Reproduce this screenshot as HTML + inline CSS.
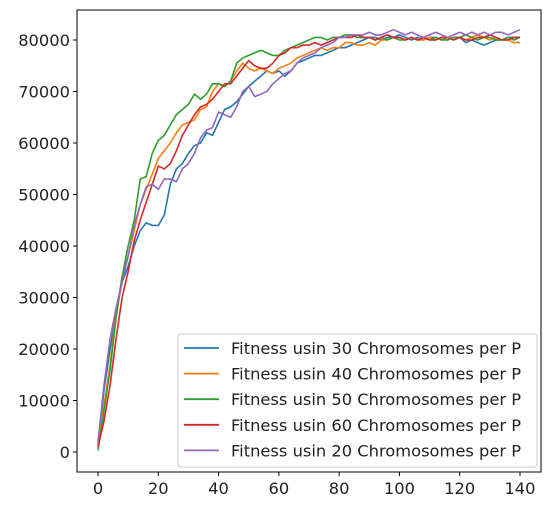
<!DOCTYPE html>
<html><head><meta charset="utf-8"><style>
body{margin:0;background:#fff;font-family:"Liberation Sans","DejaVu Sans",sans-serif}
svg text{font-family:"DejaVu Sans","Liberation Sans",sans-serif;font-size:16.3px;fill:#222}
</style></head><body>
<svg id="chart" width="553" height="508"></svg>
<script>
const xStep = 2;
const series30 = [1000,12000,20000,27000,33000,36000,40000,43000,44500,44000,44000,46000,52000,55000,56000,58000,59500,60000,62000,61500,64000,66500,67000,68000,69500,71000,72000,73000,74000,73500,74000,73000,74000,75500,76000,76500,77000,77000,77500,78000,78500,78500,79000,79500,80000,80500,80500,80000,80500,80500,81000,80500,80000,80500,80000,80500,80500,80000,80500,80000,80500,79500,80000,79500,79000,79500,80000,80000,80500,80500,80500];
const series40 = [1500,9000,17000,27000,34000,38000,43000,48000,51000,54000,57000,58500,60000,62000,63500,64000,64500,66500,67000,70000,71500,71000,72000,74000,75500,74500,74000,74500,74000,73500,74500,75000,75500,76500,77000,77500,78000,78500,78000,78500,78500,79500,79500,79000,79000,79500,79000,80000,80000,80500,80500,80000,80500,80000,80000,80500,80000,80500,80000,80500,80500,80000,80500,81000,80500,80000,80500,80000,80000,79500,79500];
const series50 = [300,8000,16000,26000,34000,40000,45000,53000,53500,58000,60500,61500,63500,65500,66500,67500,69500,68500,69500,71500,71500,71000,72000,75500,76500,77000,77500,78000,77500,77000,77000,78000,78500,79000,79500,80000,80500,80500,80000,80500,80500,81000,81000,80500,80500,80500,80000,80500,80000,80500,80000,80000,80500,80000,80500,80000,80500,80000,80000,80500,80500,81000,80500,80000,80500,80500,80000,80000,80500,80000,80500];
const series60 = [1000,6000,13000,22000,30000,35000,41000,45000,48500,52000,55500,55000,56000,58500,61500,63500,65500,67000,67500,68500,70000,71500,71500,73000,74500,76000,75000,74500,74500,75500,77000,77500,78500,78500,79000,79000,79500,79000,79500,80000,80500,80500,80500,81000,80500,80500,80000,80500,81000,80500,80500,80000,80500,80000,80500,80000,80000,80500,80500,80000,80500,80000,80000,80500,80500,81000,80500,80000,80000,80500,80500];
const series20 = [2000,13000,22000,28000,33000,38000,44000,48000,51500,52000,51000,53000,53000,52500,55000,56000,58000,61000,62500,63000,66000,65500,65000,67000,70000,71000,69000,69500,70000,71500,72500,73500,74000,75500,76500,77000,77500,78500,79000,79500,80500,80500,81000,81000,81000,81500,81000,81000,81500,82000,81500,81000,81500,81000,80500,81000,81500,81000,80500,81000,81500,81000,81500,81000,81500,81000,81500,81500,81000,81500,82000];
const seriesList = [series30,series40,series50,series60,series20];
const seriesLabels = ["Fitness usin 30 Chromosomes per P","Fitness usin 40 Chromosomes per P","Fitness usin 50 Chromosomes per P","Fitness usin 60 Chromosomes per P","Fitness usin 20 Chromosomes per P"];
const colors = ["#1f77b4","#ff7f0e","#2ca02c","#d62728","#9467bd"];
const xTicks = [0,20,40,60,80,100,120,140];
const yTicks = [0,10000,20000,30000,40000,50000,60000,70000,80000];

const NS="http://www.w3.org/2000/svg";
const svg=document.getElementById('chart');
const L=77,R=541,T=10,B=472;
const X=v=>98+v*(422/140);
const Y=v=>452-v*(412/80000);
function mk(t,a){const e=document.createElementNS(NS,t);for(const k in a)e.setAttribute(k,a[k]);svg.appendChild(e);return e;}

seriesList.forEach((s,i)=>{
  const p=mk('polyline',{points:s.map((v,j)=>X(j*xStep).toFixed(1)+','+Y(v).toFixed(1)).join(' '),fill:'none',stroke:colors[i],'stroke-width':1.6});
  
  
});
const frame=mk('rect',{x:L,y:T,width:R-L,height:B-T,fill:'none',stroke:'#000','stroke-width':1});


xTicks.forEach(v=>{
  mk('line',{x1:X(v),x2:X(v),y1:B,y2:B+4,stroke:'#000'});
  const t=mk('text',{x:X(v),y:B+22,'text-anchor':'middle'});t.textContent=v;
  
  
});
yTicks.forEach(v=>{
  mk('line',{x1:L-4,x2:L,y1:Y(v),y2:Y(v),stroke:'#000'});
  const t=mk('text',{x:L-7,y:Y(v)+6,'text-anchor':'end'});t.textContent=v;
  
  
});
const lg=mk('rect',{x:178,y:334,width:359,height:133,rx:3,fill:'#fff','fill-opacity':0.8,stroke:'#ccc'});


seriesLabels.forEach((s,i)=>{
  const y=348+i*25.6;
  mk('line',{x1:184,x2:219,y1:y,y2:y,stroke:colors[i],'stroke-width':1.8});
  const t=mk('text',{x:231,y:y+6});t.textContent=s;
  
  
});
</script>
</body></html>
